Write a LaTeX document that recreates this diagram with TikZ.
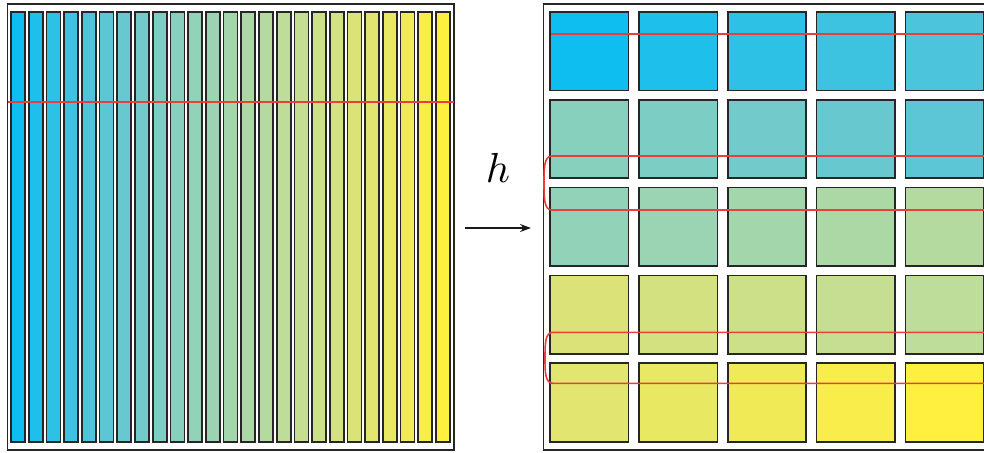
\documentclass[tikz,border=0pt]{standalone}
\usetikzlibrary{arrows.meta}
\definecolor{c0}{RGB}{14,190,240}
\definecolor{c1}{RGB}{30,192,235}
\definecolor{c2}{RGB}{45,193,230}
\definecolor{c3}{RGB}{61,195,224}
\definecolor{c4}{RGB}{76,196,219}
\definecolor{c5}{RGB}{92,198,214}
\definecolor{c6}{RGB}{103,200,208}
\definecolor{c7}{RGB}{114,203,202}
\definecolor{c8}{RGB}{124,205,196}
\definecolor{c9}{RGB}{135,208,190}
\definecolor{c10}{RGB}{146,210,184}
\definecolor{c11}{RGB}{155,212,178}
\definecolor{c12}{RGB}{164,214,172}
\definecolor{c13}{RGB}{172,216,166}
\definecolor{c14}{RGB}{181,218,160}
\definecolor{c15}{RGB}{190,220,154}
\definecolor{c16}{RGB}{197,222,145}
\definecolor{c17}{RGB}{204,223,137}
\definecolor{c18}{RGB}{212,225,128}
\definecolor{c19}{RGB}{219,227,120}
\definecolor{c20}{RGB}{226,229,111}
\definecolor{c21}{RGB}{233,232,99}
\definecolor{c22}{RGB}{241,234,87}
\definecolor{c23}{RGB}{248,237,75}
\definecolor{c24}{RGB}{255,240,63}
\definecolor{rl}{RGB}{234,62,58}
\begin{document}
\begin{tikzpicture}[x=1pt,y=-1pt,
  cell/.style={draw=black!85, line width=1.7pt},
  frame/.style={draw=black!85, line width=1.7pt},
  redline/.style={draw=rl, line width=1.6pt}]
\useasboundingbox (0,0) rectangle (984,452);
% left panel
\draw[frame] (7.5,4) rectangle (454,450);
\foreach \i in {0,...,24} {
  \pgfmathsetmacro\xx{11+17.71*\i}
  \filldraw[cell, fill=c\i] (\xx,12) rectangle ++(14,429.7);
}
\draw[redline] (7.5,102) -- (454,102);
% arrow and label
\coordinate (a) at (465,228);
\coordinate (b) at (531,228);
\draw[-{Stealth[length=11pt,width=8pt]}, line width=1.3pt, black!90] (a) -- (b);
\node (h) at (498,168) [scale=4.2] {$h$};
% right panel
\draw[frame] (543.5,4) rectangle (992,450);
\foreach \r in {0,...,4} {
  \foreach \c in {0,...,4} {
    \pgfmathtruncatemacro\k{mod(\r,2)==1 ? 5*\r+4-\c : 5*\r+\c}
    \pgfmathsetmacro\xx{550+88.85*\c}
    \pgfmathsetmacro\yy{12+87.8*\r}
    \filldraw[cell, fill=c\k] (\xx,\yy) rectangle ++(78.5,78.5);
  }
}
\draw[redline] (550.5,34) -- (992,34);
\draw[redline] (992,156) -- (552,156) .. controls (544,156) and (544,168) .. (544,183)
  .. controls (544,198) and (544,210) .. (552,210) -- (992,210);
\draw[redline] (992,332.3) -- (553,332.3) .. controls (545,332.3) and (545,344) .. (545,358)
  .. controls (545,372) and (545,383.3) .. (553,383.3) -- (992,383.3);
\end{tikzpicture}
\end{document}
